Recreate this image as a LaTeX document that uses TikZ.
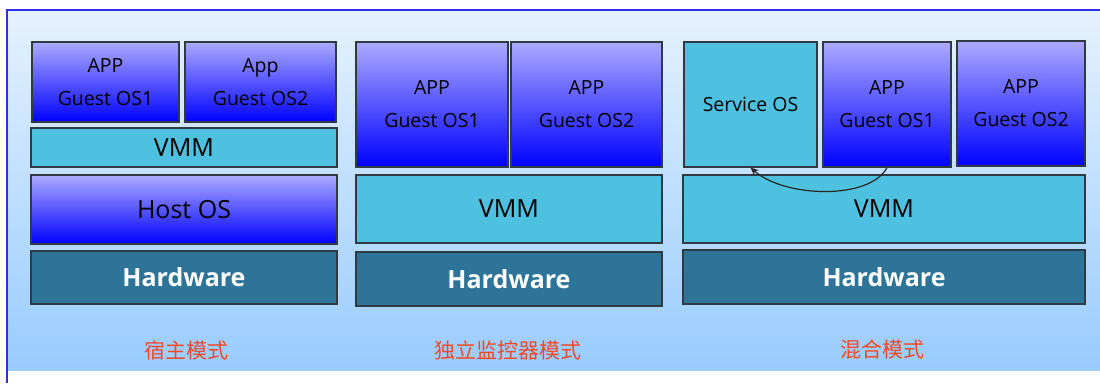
\documentclass[tikz,border=0pt]{standalone}
\usepackage{fontspec}
\setmainfont{Open Sans}
\newfontfamily\cjkfont{Noto Sans CJK SC}
\usetikzlibrary{arrows.meta}

\definecolor{panelTop}{RGB}{229,241,253}
\definecolor{panelBot}{RGB}{153,204,255}
\definecolor{frameBlue}{RGB}{45,45,235}
\definecolor{guestTop}{RGB}{172,170,255}
\definecolor{guestBot}{RGB}{0,0,255}
\definecolor{vmmCyan}{RGB}{79,193,224}
\definecolor{hwTeal}{RGB}{46,115,152}
\definecolor{edgeGray}{RGB}{48,58,66}
\definecolor{modeRed}{RGB}{243,72,38}

\tikzset{
  slab/.style={draw=edgeGray, line width=1.2pt, inner sep=0pt, align=center},
  guest/.style={slab, top color=guestTop, bottom color=guestBot,
    font=\fontsize{19.5}{33}\selectfont},
  cyanlayer/.style={slab, fill=vmmCyan, font=\fontsize{25}{30}\selectfont},
  hostlayer/.style={slab, top color=guestTop, bottom color=guestBot,
    font=\fontsize{25}{30}\selectfont},
  hwlayer/.style={slab, fill=hwTeal, text=white,
    font=\fontsize{25}{30}\selectfont\bfseries},
  modelabel/.style={text=modeRed, font=\cjkfont\fontsize{21}{24}\selectfont},
  flow/.style={draw=black!85, line width=1.2pt, -{Stealth[length=8pt,width=7pt]}}
}

\begin{document}
\begin{tikzpicture}[x=1pt, y=-1pt]
  \useasboundingbox (0,0) rectangle (1100,383);

  % background panel and its frame
  \fill[top color=panelTop, bottom color=panelBot] (7,10) rectangle (1100,370);
  \draw[frameBlue, line width=1.5pt] (7,383) -- (7,10) -- (1100,10);

  % hosted mode
  \node[guest, minimum width=147pt, minimum height=80pt] (c1g1) at (105.5,82) {APP\\Guest OS1};
  \node[guest, minimum width=151pt, minimum height=80pt] (c1g2) at (260.5,82) {App\\Guest OS2};
  \node[cyanlayer, minimum width=306pt, minimum height=39pt] (c1vmm) at (184,147.5) {VMM};
  \node[hostlayer, minimum width=306pt, minimum height=69pt] (c1host) at (184,209.5) {Host OS};
  \node[hwlayer, minimum width=306pt, minimum height=53pt] (c1hw) at (184,277.5) {Hardware};
  \node[modelabel] (c1lab) at (186,350) {宿主模式};

  % standalone hypervisor mode
  \node[guest, minimum width=152pt, minimum height=125pt] (c2g1) at (432,104.5) {APP\\Guest OS1};
  \node[guest, minimum width=151pt, minimum height=125pt] (c2g2) at (586.5,104.5) {APP\\Guest OS2};
  \node[cyanlayer, minimum width=306pt, minimum height=68pt] (c2vmm) at (509,209) {VMM};
  \node[hwlayer, minimum width=306pt, minimum height=54pt] (c2hw) at (509,279) {Hardware};
  \node[modelabel] (c2lab) at (508,350) {独立监控器模式};

  % hybrid mode
  \node[cyanlayer, font=\fontsize{19.5}{24}\selectfont, minimum width=133pt, minimum height=125pt] (c3svc) at (750.5,104.5) {Service OS};
  \node[guest, minimum width=128pt, minimum height=125pt] (c3g1) at (887,104.5) {APP\\Guest OS1};
  \node[guest, minimum width=128pt, minimum height=125pt] (c3g2) at (1021,103.5) {APP\\Guest OS2};
  \node[cyanlayer, minimum width=402pt, minimum height=68pt] (c3vmm) at (884,209) {VMM};
  \node[hwlayer, minimum width=402pt, minimum height=54pt] (c3hw) at (884,277) {Hardware};
  \node[modelabel] (c3lab) at (882,350) {混合模式};

  % request path from the guest to the service OS
  \draw[flow] (c3g1.south) .. controls (870,200) and (785,198) .. (c3svc.south);
\end{tikzpicture}
\end{document}
